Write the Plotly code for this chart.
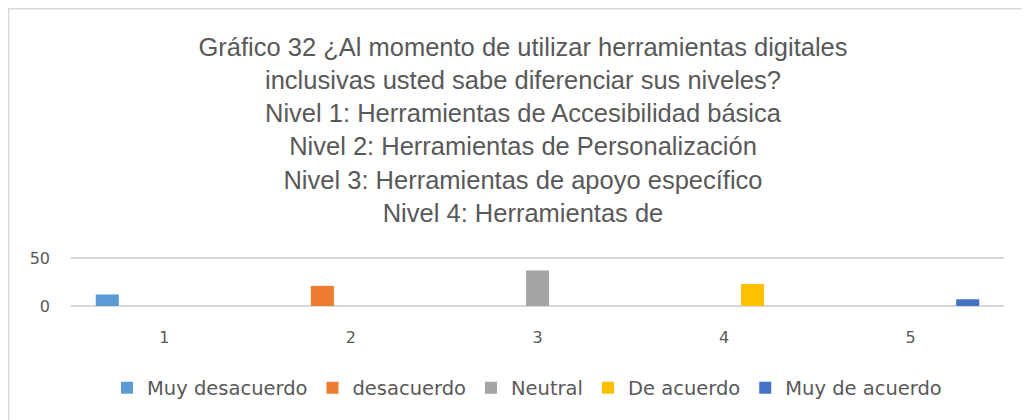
import plotly.graph_objects as go

categories = ["1", "2", "3", "4", "5"]
series_names = ["Muy desacuerdo", "desacuerdo", "Neutral", "De acuerdo", "Muy de acuerdo"]
series_values = [
    [12, None, None, None, None],
    [None, 21, None, None, None],
    [None, None, 37, None, None],
    [None, None, None, 23, None],
    [None, None, None, None, 7],
]
colors = ["#5B9BD5", "#ED7D31", "#A5A5A5", "#FFC000", "#4472C4"]
y_ticks = [0, 50]

title_text = ("Gráfico 32 ¿Al momento de utilizar herramientas digitales<br>"
              "inclusivas usted sabe diferenciar sus niveles?<br>"
              "Nivel 1: Herramientas de Accesibilidad básica<br>"
              "Nivel 2: Herramientas de Personalización<br>"
              "Nivel 3: Herramientas de apoyo específico<br>"
              "Nivel 4: Herramientas de")

W, H = 1030, 420
PAD = 3  # px of padding so the 0 and 50 gridlines are not clipped at the edges
L, R, T, B = 63, 34, 250 - PAD, 122 - PAD
PW, PH = W - L - R, H - T - B
pad_units = 50 * PAD / 48

fig = go.Figure()
for name, vals, col in zip(series_names, series_values, colors):
    fig.add_trace(go.Bar(x=categories, y=vals, name=name, marker_color=col,
                         marker_line_width=0))

fig.update_layout(
    width=W, height=H,
    margin=dict(l=L, r=R, t=T, b=B),
    paper_bgcolor="white", plot_bgcolor="white",
    barmode="group", bargap=0.236, bargroupgap=0.19,
    title=dict(text=title_text, x=0.5, xanchor="center", xref="container",
               y=1 - 48 / 420, yanchor="top", yref="container",
               font=dict(family="Liberation Sans, Arial", size=25.5, color="#595959")),
    legend=dict(orientation="h", xref="container", yref="container",
                x=519 / 1030, xanchor="center", y=1 - 380 / 420, yanchor="middle",
                font=dict(family="DejaVu Sans", size=19.5, color="#595959"),
                itemwidth=30, traceorder="normal"),
    showlegend=True,
)
fig.update_xaxes(type="category", showline=False, showgrid=False, zeroline=False,
                 ticks="", ticklabelstandoff=20 - PAD,
                 tickfont=dict(family="DejaVu Sans", size=16, color="#595959"))
fig.update_yaxes(range=[-pad_units, 50 + pad_units], tickvals=y_ticks, showgrid=True,
                 gridcolor="#D9D9D9", gridwidth=1.5, zeroline=False, showline=False,
                 ticks="", ticklabelstandoff=20,
                 tickfont=dict(family="DejaVu Sans", size=16, color="#595959"))

# outer chart border (around the whole chart area), outline only
fig.add_shape(type="rect", xref="paper", yref="paper",
              x0=(0.75 - L) / PW, x1=(W - 0.75 - L) / PW,
              y0=(PH - (H - 0.75) + T) / PH, y1=(PH - 0.75 + T) / PH,
              line=dict(color="#D9D9D9", width=1.5),
              layer="above")

fig.write_html("out.html")
